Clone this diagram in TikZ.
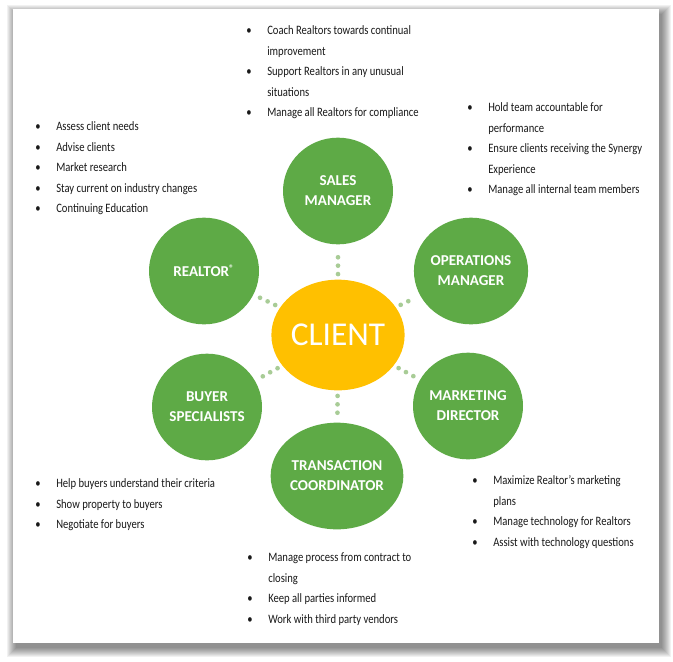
\documentclass[tikz,border=0pt]{standalone}
\usepackage{fontspec}
\setmainfont{Carlito}
\newfontfamily\narrowfont[FakeStretch=0.83]{Carlito}
\usepackage{xcolor}
\usepackage{tikz}
\usetikzlibrary{shapes.geometric}

\definecolor{rolegreen}{RGB}{94,170,70}
\definecolor{hubgold}{RGB}{255,192,0}
\definecolor{dotgreen}{RGB}{168,204,150}

\newcommand{\dutylist}[1]{\begin{tabular}{@{}p{15.75pt}@{}l@{}}#1\end{tabular}}

\begin{document}
\begin{tikzpicture}[
    x=0.75pt, y=-0.75pt,
    role/.style={ellipse, fill=rolegreen, text=white, minimum width=82.5pt, minimum height=80pt,
      inner sep=0pt, align=center, font=\fontsize{11.3}{15}\selectfont\bfseries},
    hub/.style={ellipse, fill=hubgold, text=white, minimum width=89pt, minimum height=83pt,
      inner sep=0pt, font=\fontsize{25}{30}\selectfont},
    dotlink/.style={draw=dotgreen, line width=3.5pt, line cap=round,
      dash pattern=on 0pt off 6.3pt, shorten <=4pt, shorten >=4pt},
    duties/.style={anchor=north west, inner sep=0pt, text=black!90,
      font=\narrowfont\fontsize{9.6}{15.4}\selectfont},
  ]
  \useasboundingbox (0,0) rectangle (673,661);

  % Page with soft shadow
  \foreach \i in {0,...,9}
    \fill[black, opacity=0.055] (16-\i,14-\i) rectangle (662+\i,648+\i);
  \fill[white] (13,9) rectangle (659,643);

  % Centre
  \node[hub] (client) at (338,335) {CLIENT};

  % Roles around the client
  \node[role] (sales)   at (338,191) {SALES\\MANAGER};
  \node[role] (ops)     at (471,271) {OPERATIONS\\MANAGER};
  \node[role] (mkt)     at (468,406) {MARKETING\\DIRECTOR};
  \node[role] (tc)      at (337,476) {TRANSACTION\\COORDINATOR};
  \node[role] (buyer)   at (207,407) {BUYER\\SPECIALISTS};
  \node[role] (realtor) at (204,271) {REALTOR\textsuperscript{\scriptsize ®}};

  % Dotted links
  \foreach \r in {sales,ops,mkt,tc,buyer,realtor}
    \draw[dotlink] (client) -- (\r);

  % Duties
  \node[duties] (salesduties) at (246,20) {\dutylist{
    \textbullet & Coach Realtors towards continual\\
                & improvement\\
    \textbullet & Support Realtors in any unusual\\
                & situations\\
    \textbullet & Manage all Realtors for compliance}};
  \node[duties] (realtorduties) at (35,116) {\dutylist{
    \textbullet & Assess client needs\\
    \textbullet & Advise clients\\
    \textbullet & Market research\\
    \textbullet & Stay current on industry changes\\
    \textbullet & Continuing Education}};
  \node[duties] (opsduties) at (467,97) {\dutylist{
    \textbullet & Hold team accountable for\\
                & performance\\
    \textbullet & Ensure clients receiving the Synergy\\
                & Experience\\
    \textbullet & Manage all internal team members}};
  \node[duties] (buyerduties) at (35,473) {\dutylist{
    \textbullet & Help buyers understand their criteria\\
    \textbullet & Show property to buyers\\
    \textbullet & Negotiate for buyers}};
  \node[duties] (mktduties) at (472,470) {\dutylist{
    \textbullet & Maximize Realtor’s marketing\\
                & plans\\
    \textbullet & Manage technology for Realtors\\
    \textbullet & Assist with technology questions}};
  \node[duties] (tcduties) at (247,547) {\dutylist{
    \textbullet & Manage process from contract to\\
                & closing\\
    \textbullet & Keep all parties informed\\
    \textbullet & Work with third party vendors}};
\end{tikzpicture}
\end{document}
